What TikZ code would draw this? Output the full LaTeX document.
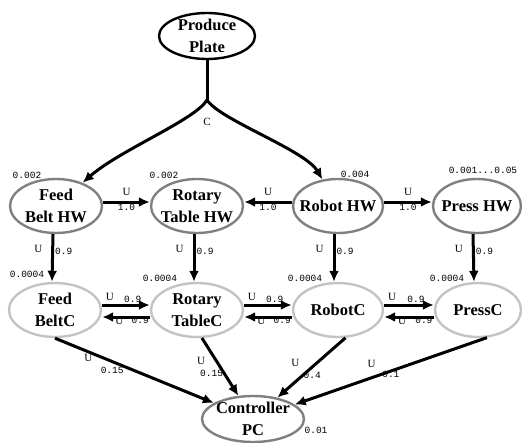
\documentclass[tikz,border=0pt]{standalone}
\usepackage{fontspec}
\setmainfont{Liberation Serif}
\setmonofont{Liberation Mono}
\usetikzlibrary{shapes.geometric,arrows.meta}
\definecolor{hwgray}{RGB}{128,128,128}
\definecolor{ctlgray}{RGB}{195,195,195}
\tikzset{
  state/.style={ellipse, draw, line width=2.4pt, inner sep=0pt, minimum width=92pt, minimum height=54pt},
  hw/.style={state, draw=hwgray},
  ctl/.style={state, draw=ctlgray},
  txt/.style={font=\fontsize{16.5}{22}\selectfont\bfseries, align=center, inner sep=0pt},
  u/.style={font=\fontsize{11}{11}\selectfont, inner sep=1pt},
  num/.style={font=\fontsize{9.5}{10}\selectfont\ttfamily, inner sep=1pt},
  link/.style={->, line width=3pt},
}

\begin{document}
\begin{tikzpicture}[x=1pt, y=-1pt, >={Latex[length=11pt,width=10pt]}]
\useasboundingbox (0,0) rectangle (522,442);

\node[state, minimum width=96pt, minimum height=46pt, label={[txt]center:{Produce\\Plate}}] (plate) at (207,36) {};
\coordinate (split) at (207,100);

\node[hw, label={[txt]center:{Feed\\Belt HW}}] (feedhw) at (56,206) {};
\node[hw, label={[txt]center:{Rotary\\Table HW}}] (rothw) at (197,206) {};
\node[hw, minimum width=90pt, label={[txt]center:{Robot HW}}] (robhw) at (338,206) {};
\node[hw, minimum width=88pt, label={[txt]center:{Press HW}}] (presshw) at (477,206) {};

\node[ctl, label={[txt]center:{Feed\\BeltC}}] (feedc) at (55,310) {};
\node[ctl, label={[txt]center:{Rotary\\TableC}}] (rotc) at (197,310) {};
\node[ctl, minimum width=90pt, label={[txt]center:{RobotC}}] (robc) at (338,310) {};
\node[ctl, minimum width=86pt, label={[txt]center:{PressC}}] (pressc) at (478,310) {};

\node[hw, minimum width=102pt, minimum height=46pt, label={[txt]center:{Controller\\PC}}] (pc) at (253,419) {};

\node[num] (pfeedhw) at (27,175) {0.002};
\node[num] (prothw) at (164,175) {0.002};
\node[num] (probhw) at (355,174) {0.004};
\node[num] (ppresshw) at (483,170) {0.001...0.05};
\node[num] (pfeedc) at (27,274) {0.0004};
\node[num] (protc) at (160,278) {0.0004};
\node[num] (probc) at (305,278) {0.0004};
\node[num] (ppressc) at (447,278) {0.0004};
\node[num] (ppc) at (316,430) {0.01};
\node[u] (c) at (207,122) {C};

\draw[line width=3pt] (plate) -- (split);
\draw[link] (split) .. controls (195,120) and (120,150) .. (feedhw);
\draw[link] (split) .. controls (220,120) and (305,150) .. (robhw);

\draw[link] ([yshift=4pt]feedhw.east) -- node[above=4pt,u]{U} node[below,num]{1.0} ([yshift=4pt]rothw.west);
\draw[link] ([yshift=4pt]robhw.west) -- node[above=4pt,u]{U} node[below,num]{1.0} ([yshift=4pt]rothw.east);
\draw[link] ([yshift=4pt]robhw.east) -- node[above=4pt,u]{U} node[below,num]{1.0} ([yshift=4pt]presshw.west);

\draw[link] ([xshift=-3pt]feedhw.south) -- node[pos=.3,left=8pt,u]{U} node[pos=.36,right=0pt,num]{0.9} ([xshift=-3pt]feedc.north);
\draw[link] ([xshift=-3pt]rothw.south) -- node[pos=.3,left=8pt,u]{U} node[pos=.36,right=0pt,num]{0.9} ([xshift=-3pt]rotc.north);
\draw[link] ([xshift=-4pt]robhw.south) -- node[pos=.3,left=8pt,u]{U} node[pos=.36,right=0pt,num]{0.9} ([xshift=-4pt]robc.north);
\draw[link] ([xshift=-4pt]presshw.south) -- node[pos=.3,left=8pt,u]{U} node[pos=.36,right=0pt,num]{0.9} ([xshift=-4pt]pressc.north);

\draw[link] ([yshift=5pt]feedc.east) -- node[pos=.16,above=2pt,u]{U} node[pos=.64,above=0pt,num]{0.9} ([yshift=5pt]rotc.west);
\draw[link] ([yshift=-7pt]rotc.west) -- node[pos=.64,below=-2pt,u]{U} node[pos=.2,below=-2pt,num]{0.9} ([yshift=-7pt]feedc.east);
\draw[link] ([yshift=5pt]rotc.east) -- node[pos=.16,above=2pt,u]{U} node[pos=.64,above=0pt,num]{0.9} ([yshift=5pt]robc.west);
\draw[link] ([yshift=-7pt]robc.west) -- node[pos=.64,below=-2pt,u]{U} node[pos=.2,below=-2pt,num]{0.9} ([yshift=-7pt]rotc.east);
\draw[link] ([yshift=5pt]robc.east) -- node[pos=.16,above=2pt,u]{U} node[pos=.64,above=0pt,num]{0.9} ([yshift=5pt]pressc.west);
\draw[link] ([yshift=-7pt]pressc.west) -- node[pos=.64,below=-2pt,u]{U} node[pos=.2,below=-2pt,num]{0.9} ([yshift=-7pt]robc.east);

\draw[link] (feedc.south) -- node[pos=.21,below,u]{U} node[pos=.36,below=3pt,num]{0.15} (pc);
\draw[link] (rotc.-80) -- node[pos=.4,left=9pt,u]{U} node[pos=.62,left=-1pt,num]{0.15} (pc);
\draw[link] (robc.-75) -- node[pos=.42,left=15pt,u]{U} node[pos=.62,right=-2pt,num]{0.4} (pc);
\draw[link] (pressc.-72) -- node[pos=.6,above=8pt,u]{U} node[pos=.5,below=-2pt,num]{0.1} (pc);
\end{tikzpicture}
\end{document}
